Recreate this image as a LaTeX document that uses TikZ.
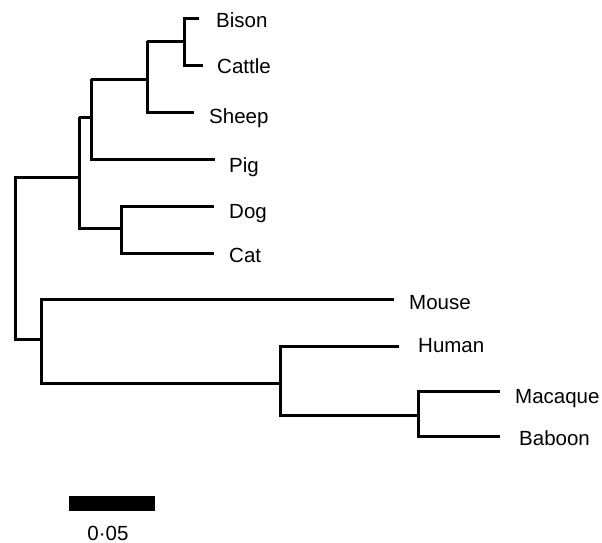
\documentclass[tikz,border=0pt]{standalone}
\usepackage{fontspec}
\setmainfont{Liberation Sans}
\begin{document}
\begin{tikzpicture}[x=1pt,y=-1pt,
  branch/.style={line width=3pt,line cap=butt,line join=miter},
  taxon/.style={anchor=base west,inner sep=0pt,font=\fontsize{20.5}{24}\selectfont}]
\useasboundingbox (0,0) rectangle (602,543);

% internal nodes
\coordinate (root) at (15,177);
\coordinate (nBC)  at (184,41.5);
\coordinate (nBCS) at (147,79);
\coordinate (nBCSP) at (91,117);
\coordinate (nDC)  at (121,228);
\coordinate (nLaur) at (79,177);
\coordinate (nEua) at (41,339);
\coordinate (nPrim) at (280,383);
\coordinate (nMB)  at (418,415);

% branch tips
\coordinate (tBison)   at (199,18.5);
\coordinate (tCattle)  at (203,66);
\coordinate (tSheep)   at (194,112);
\coordinate (tPig)     at (215,159);
\coordinate (tDog)     at (214,206);
\coordinate (tCat)     at (214,253);
\coordinate (tMouse)   at (394,299);
\coordinate (tHuman)   at (399,346);
\coordinate (tMacaque) at (500,391);
\coordinate (tBaboon)  at (500,436);

% branches
\draw[branch] (tBison) -| (nBC) |- (tCattle);
\draw[branch] (nBC) -- (nBC -| nBCS);
\draw[branch] (nBCS |- nBC) -- (nBCS |- tSheep) -- (tSheep);
\draw[branch] (nBCS) -- (nBCS -| nBCSP);
\draw[branch] (nBCSP |- nBCS) -- (nBCSP |- tPig) -- (tPig);
\draw[branch] (nBCSP) -- (nBCSP -| nLaur);
\draw[branch] (nLaur |- nBCSP) -- (nLaur |- nDC) -- (nDC);
\draw[branch] (tDog) -| (nDC) |- (tCat);
\draw[branch] (nLaur) -- (root) -- (root |- nEua) -- (nEua);
\draw[branch] (tMouse) -| (nEua) |- (nPrim);
\draw[branch] (tHuman) -| (nPrim) |- (nMB);
\draw[branch] (tMacaque) -| (nMB) |- (tBaboon);

% taxon labels
\node[taxon] (lBison)   at (216,27.3)  {Bison};
\node[taxon] (lCattle)  at (217,73.3)  {Cattle};
\node[taxon] (lSheep)   at (209,123.3) {Sheep};
\node[taxon] (lPig)     at (229,172.7) {Pig};
\node[taxon] (lDog)     at (229,218.3) {Dog};
\node[taxon] (lCat)     at (229,262.3) {Cat};
\node[taxon] (lMouse)   at (409,309.3) {Mouse};
\node[taxon] (lHuman)   at (418,352.3) {Human};
\node[taxon] (lMacaque) at (515,403.3) {Macaque};
\node[taxon] (lBaboon)  at (519,445)   {Baboon};

% scale bar
\fill (69,496) rectangle (155,511);
\node[taxon,anchor=base] (lScale) at (108,540) {0·05};
\end{tikzpicture}
\end{document}
